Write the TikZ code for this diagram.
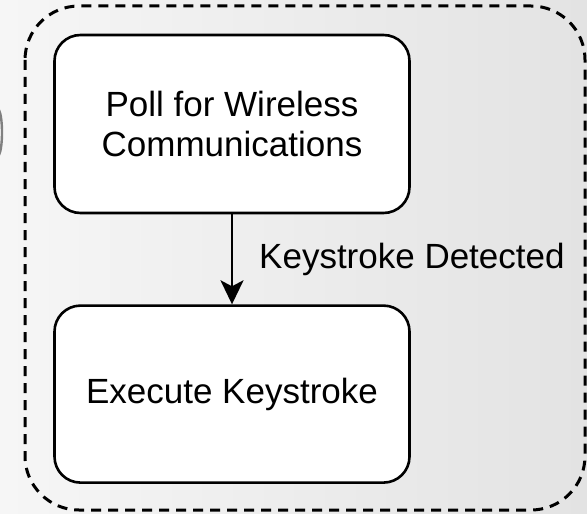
\documentclass[tikz,border=0pt]{standalone}
\usepackage{fontspec}
\setmainfont{Liberation Sans}
\usetikzlibrary{positioning,arrows.meta}
\tikzset{
  stepbox/.style={draw, line width=1.3pt, fill=white, rounded corners=13pt,
    minimum width=177.5pt, minimum height=89pt, align=center,
    font=\fontsize{17.5}{20}\selectfont},
  flow/.style={-{Stealth[length=12pt,width=11.5pt,inset=3pt]}, line width=1.2pt},
  loopbox/.style={dashed, dash pattern=on 5pt off 3.5pt, line width=1.5pt, rounded corners=27pt}
}
\begin{document}
\begin{tikzpicture}[x=0.5pt,y=-0.5pt, node distance=45pt]
\useasboundingbox (0,0) rectangle (587,513);
\shade[left color=gray!7, right color=gray!22] (0,0) rectangle (587,513);
\draw[gray, line width=1.2pt] (-1,110) .. controls (3,118) and (3,147) .. (-1,155);
\draw[loopbox] (25,6) rectangle (585,510);
\node[stepbox] (poll) at (232,124) {Poll for Wireless\\Communications};
\node[stepbox, minimum height=88.5pt, below=of poll] (exec) {Execute Keystroke};
\draw[flow] (poll) -- node[right, inner sep=0pt, xshift=13pt, font=\fontsize{17.5}{20}\selectfont] {Keystroke Detected} (exec);
\end{tikzpicture}
\end{document}
